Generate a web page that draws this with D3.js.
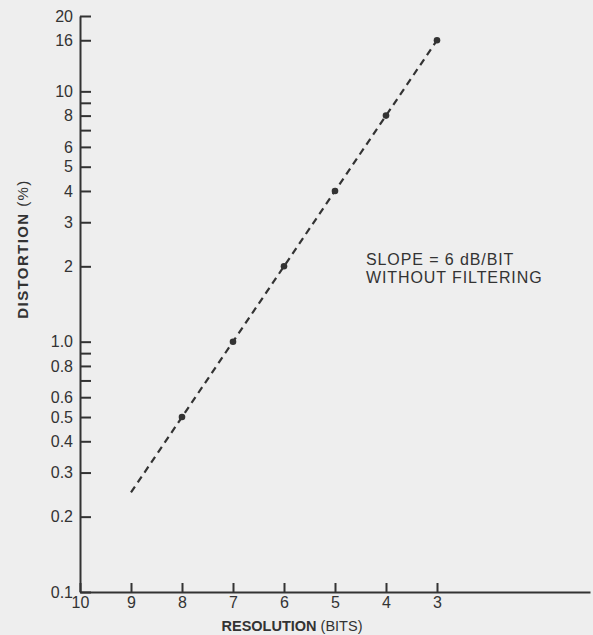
<!DOCTYPE html>
<html>
<head>
<meta charset="utf-8">
<script src="https://cdn.jsdelivr.net/npm/d3@7"></script>
<style>
  html, body { margin: 0; padding: 0; background: #eeeeee; }
  svg { display: block; }
  text { font-family: "Liberation Sans", Arial, Helvetica, sans-serif; }
</style>
</head>
<body>
<svg id="chart" width="593" height="635"></svg>
<script>
// ---- data ----
const pointBits = [8, 7, 6, 5, 4, 3];
const pointDistortion = [0.5, 1.0, 2, 4, 8, 16];
const lineBits = [9, 8, 7, 6, 5, 4, 3];
const lineDistortion = [0.25, 0.5, 1.0, 2, 4, 8, 16];
const yTickValues = [20, 16, 10, 8, 6, 5, 4, 3, 2, 1.0, 0.8, 0.6, 0.5, 0.4, 0.3, 0.2, 0.1];
const yTickLabels = ["20", "16", "10", "8", "6", "5", "4", "3", "2", "1.0", "0.8", "0.6", "0.5", "0.4", "0.3", "0.2", "0.1"];
const yMinorTicks = [9, 7, 0.9, 0.7];
const xTickValues = [10, 9, 8, 7, 6, 5, 4, 3];
const xTickLabels = ["10", "9", "8", "7", "6", "5", "4", "3"];
const annotation = ["SLOPE = 6 dB/BIT", "WITHOUT FILTERING"];

const ink = "#333";
const svg = d3.select("#chart");

const x = d3.scaleLinear().domain([10, 0]).range([80, 590]);
const y = d3.scaleLog().domain([0.1, 20]).range([592, 16]);

// Y axis (labeled ticks)
const yAxis = d3.axisLeft(y)
  .tickValues(yTickValues)
  .tickFormat((d, i) => yTickLabels[i])
  .tickSizeInner(-11)
  .tickSizeOuter(0)
  .tickPadding(7);
const gy = svg.append("g").attr("transform", `translate(${x(10)},0)`).call(yAxis);
gy.select(".domain").attr("stroke", ink).attr("stroke-width", 2);
gy.selectAll(".tick line").attr("stroke", ink).attr("stroke-width", 2);
gy.selectAll(".tick text").attr("fill", ink).style("font-size", "16px");

// Y minor ticks
const yMinorAxis = d3.axisLeft(y).tickValues(yMinorTicks).tickFormat("").tickSizeInner(-11).tickSizeOuter(0);
const gym = svg.append("g").attr("transform", `translate(${x(10)},0)`).call(yMinorAxis);
gym.select(".domain").remove();
gym.selectAll(".tick line").attr("stroke", ink).attr("stroke-width", 2);

// X axis
const xAxis = d3.axisBottom(x)
  .tickValues(xTickValues)
  .tickFormat((d, i) => xTickLabels[i])
  .tickSizeInner(-9)
  .tickSizeOuter(0)
  .tickPadding(5);
const gx = svg.append("g").attr("transform", `translate(0,${y(0.1)})`).call(xAxis);
gx.select(".domain").attr("stroke", ink).attr("stroke-width", 2);
gx.selectAll(".tick line").attr("stroke", ink).attr("stroke-width", 2);
gx.selectAll(".tick text").attr("fill", ink).style("font-size", "16px");

// Dashed line
const lineData = lineBits.map((b, i) => ({ b, v: lineDistortion[i] }));
svg.append("path")
  .datum(lineData)
  .attr("fill", "none")
  .attr("stroke", ink)
  .attr("stroke-width", 2.2)
  .attr("stroke-dasharray", "7,5")
  .attr("d", d3.line().x(d => x(d.b)).y(d => y(d.v)));

// Points
svg.selectAll("circle.pt")
  .data(pointBits.map((b, i) => ({ b, v: pointDistortion[i] })))
  .join("circle")
  .attr("class", "pt")
  .attr("cx", d => x(d.b))
  .attr("cy", d => y(d.v))
  .attr("r", 3.3)
  .attr("fill", ink);

// Axis titles
const xt = svg.append("text")
  .attr("x", 292).attr("y", 631)
  .attr("text-anchor", "middle")
  .attr("fill", ink)
  .style("font-size", "14.5px");
xt.append("tspan").attr("font-weight", "bold").text("RESOLUTION");
xt.append("tspan").text(" (BITS)");

const yt = svg.append("text")
  .attr("transform", "translate(28,249) rotate(-90)")
  .attr("text-anchor", "middle")
  .attr("fill", ink)
  .style("font-size", "15px")
  .style("letter-spacing", "1.4px");
yt.append("tspan").attr("font-weight", "bold").text("DISTORTION");
yt.append("tspan").text(" (%)");

// Annotation
svg.append("g").selectAll("text")
  .data(annotation)
  .join("text")
  .attr("x", 366)
  .attr("y", (d, i) => 265 + i * 18)
  .attr("fill", ink)
  .style("font-size", "16px")
  .style("letter-spacing", "0.9px")
  .text(d => d);
</script>
</body>
</html>
